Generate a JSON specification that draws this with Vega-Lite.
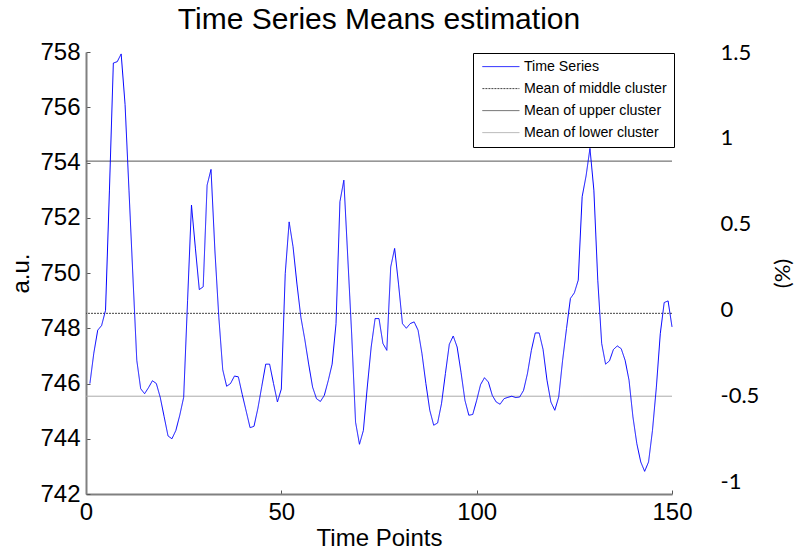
{
  "$schema": "https://vega.github.io/schema/vega-lite/v6.json",
  "width": 586,
  "height": 442,
  "autosize": {"type": "none"},
  "padding": {"left": 86, "top": 52, "right": 126, "bottom": 60},
  "background": "white",
  "title": {"text": "Time Series Means estimation", "font": "Liberation Sans", "fontSize": 30, "fontWeight": "normal", "color": "black", "anchor": "middle", "baseline": "alphabetic", "offset": -19},
  "config": {
    "view": {"stroke": null},
    "axis": {"grid": false, "labelFont": "Liberation Sans", "titleFont": "Liberation Sans", "labelColor": "black", "titleColor": "black", "titleFontWeight": "normal"}
  },
  "datasets": {
    "series": [
      {"t":1,"v":746.0},{"t":2,"v":747.1},{"t":3,"v":747.93},{"t":4,"v":748.1},{"t":5,"v":748.65},
      {"t":6,"v":753.0},{"t":7,"v":757.6},{"t":8,"v":757.65},{"t":9,"v":757.93},{"t":10,"v":756.1},
      {"t":11,"v":753.0},{"t":12,"v":749.9},{"t":13,"v":746.84},{"t":14,"v":745.81},{"t":15,"v":745.63},
      {"t":16,"v":745.85},{"t":17,"v":746.1},{"t":18,"v":746.0},{"t":19,"v":745.5},{"t":20,"v":744.8},
      {"t":21,"v":744.1},{"t":22,"v":744.0},{"t":23,"v":744.3},{"t":24,"v":744.85},{"t":25,"v":745.5},
      {"t":26,"v":749.0},{"t":27,"v":752.46},{"t":28,"v":750.9},{"t":29,"v":749.4},{"t":30,"v":749.5},
      {"t":31,"v":753.18},{"t":32,"v":753.75},{"t":33,"v":750.8},{"t":34,"v":748.4},{"t":35,"v":746.5},
      {"t":36,"v":745.9},{"t":37,"v":746.0},{"t":38,"v":746.27},{"t":39,"v":746.24},{"t":40,"v":745.6},
      {"t":41,"v":745.0},{"t":42,"v":744.4},{"t":43,"v":744.45},{"t":44,"v":745.1},{"t":45,"v":745.9},
      {"t":46,"v":746.7},{"t":47,"v":746.7},{"t":48,"v":746.0},{"t":49,"v":745.33},{"t":50,"v":745.8},
      {"t":51,"v":749.98},{"t":52,"v":751.85},{"t":53,"v":750.95},{"t":54,"v":749.6},{"t":55,"v":748.4},
      {"t":56,"v":747.6},{"t":57,"v":746.7},{"t":58,"v":745.87},{"t":59,"v":745.45},{"t":60,"v":745.35},
      {"t":61,"v":745.57},{"t":62,"v":746.1},{"t":63,"v":746.7},{"t":64,"v":748.17},{"t":65,"v":752.58},
      {"t":66,"v":753.36},{"t":67,"v":750.58},{"t":68,"v":747.8},{"t":69,"v":744.6},{"t":70,"v":743.8},
      {"t":71,"v":744.3},{"t":72,"v":745.87},{"t":73,"v":747.32},{"t":74,"v":748.35},{"t":75,"v":748.35},
      {"t":76,"v":747.45},{"t":77,"v":747.2},{"t":78,"v":750.22},{"t":79,"v":750.89},{"t":80,"v":749.6},
      {"t":81,"v":748.17},{"t":82,"v":748.0},{"t":83,"v":748.17},{"t":84,"v":748.23},{"t":85,"v":747.93},
      {"t":86,"v":747.08},{"t":87,"v":746.0},{"t":88,"v":745.03},{"t":89,"v":744.49},{"t":90,"v":744.57},
      {"t":91,"v":745.27},{"t":92,"v":746.36},{"t":93,"v":747.42},{"t":94,"v":747.72},{"t":95,"v":747.32},
      {"t":96,"v":746.4},{"t":97,"v":745.39},{"t":98,"v":744.85},{"t":99,"v":744.88},{"t":100,"v":745.39},
      {"t":101,"v":745.96},{"t":102,"v":746.21},{"t":103,"v":746.05},{"t":104,"v":745.57},{"t":105,"v":745.33},
      {"t":106,"v":745.25},{"t":107,"v":745.45},{"t":108,"v":745.5},{"t":109,"v":745.54},{"t":110,"v":745.49},
      {"t":111,"v":745.51},{"t":112,"v":745.75},{"t":113,"v":746.36},{"t":114,"v":747.2},{"t":115,"v":747.83},
      {"t":116,"v":747.83},{"t":117,"v":747.23},{"t":118,"v":746.12},{"t":119,"v":745.33},{"t":120,"v":745.03},
      {"t":121,"v":745.51},{"t":122,"v":746.84},{"t":123,"v":747.99},{"t":124,"v":749.08},{"t":125,"v":749.28},
      {"t":126,"v":749.74},{"t":127,"v":752.76},{"t":128,"v":753.51},{"t":129,"v":754.51},{"t":130,"v":753.0},
      {"t":131,"v":749.74},{"t":132,"v":747.45},{"t":133,"v":746.7},{"t":134,"v":746.82},{"t":135,"v":747.23},
      {"t":136,"v":747.36},{"t":137,"v":747.26},{"t":138,"v":746.84},{"t":139,"v":746.12},{"t":140,"v":744.79},
      {"t":141,"v":743.82},{"t":142,"v":743.16},{"t":143,"v":742.82},{"t":144,"v":743.16},{"t":145,"v":744.3},
      {"t":146,"v":745.87},{"t":147,"v":747.8},{"t":148,"v":748.93},{"t":149,"v":748.99},{"t":150,"v":748.05}
    ],
    "means": [
      {"series": "Mean of middle cluster", "v": 748.54},
      {"series": "Mean of upper cluster", "v": 754.05},
      {"series": "Mean of lower cluster", "v": 745.54}
    ],
    "pct": [{"p": -1}, {"p": 1.5}]
  },
  "layer": [
    {
      "layer": [
        {
          "data": {"name": "means"},
          "mark": {"type": "rule", "strokeWidth": 1},
          "encoding": {
            "y": {"field": "v", "type": "quantitative", "scale": {"domain": [742, 758], "nice": false, "zero": false},
              "axis": {"values": [742,744,746,748,750,752,754,756,758], "title": "a.u.", "titleFontSize": 24, "labelFontSize": 24, "tickSize": -4, "labelPadding": 10, "titlePadding": 6, "domainColor": "#808080", "domainWidth": 2, "tickColor": "#555555", "tickWidth": 1}},
            "color": {"field": "series", "type": "nominal",
              "scale": {"domain": ["Time Series", "Mean of middle cluster", "Mean of upper cluster", "Mean of lower cluster"], "range": ["#0000ff", "#444444", "#555555", "#aaaaaa"]},
              "legend": {"title": null, "orient": "none", "legendX": 387, "legendY": 1, "strokeColor": "black", "fillColor": "white", "padding": 6.5, "rowPadding": 7, "labelFont": "Liberation Sans", "labelFontSize": 14.2, "labelColor": "black", "symbolType": "M-3,0H3", "symbolSize": 152, "symbolOffset": 14.3, "labelOffset": 15.9, "symbolStrokeWidth": 1}},
            "strokeDash": {"field": "series", "type": "nominal",
              "scale": {"domain": ["Time Series", "Mean of middle cluster", "Mean of upper cluster", "Mean of lower cluster"], "range": [[1,0],[2,1],[1,0],[1,0]]},
              "legend": {"title": null, "orient": "none", "legendX": 387, "legendY": 1, "strokeColor": "black", "fillColor": "white", "padding": 6.5, "rowPadding": 7, "labelFont": "Liberation Sans", "labelFontSize": 14.2, "labelColor": "black", "symbolType": "M-3,0H3", "symbolSize": 152, "symbolOffset": 14.3, "labelOffset": 15.9, "symbolStrokeWidth": 1}}
          }
        },
        {
          "data": {"name": "series"},
          "mark": {"type": "line", "strokeWidth": 1},
          "encoding": {
            "x": {"field": "t", "type": "quantitative", "scale": {"domain": [0, 150], "nice": false},
              "axis": {"values": [0, 50, 100, 150], "title": "Time Points", "titleFontSize": 24, "labelFontSize": 24, "tickSize": -4, "labelPadding": 10, "titlePadding": 2, "domainColor": "#808080", "domainWidth": 2, "tickColor": "#555555", "tickWidth": 1, "labelFlush": false}},
            "y": {"field": "v", "type": "quantitative"},
            "color": {"datum": "Time Series", "type": "nominal"},
            "strokeDash": {"datum": "Time Series", "type": "nominal"}
          }
        }
      ]
    },
    {
      "data": {"name": "pct"},
      "mark": {"type": "point", "opacity": 0},
      "encoding": {
        "y": {"field": "p", "type": "quantitative", "scale": {"domain": [-1.07, 1.5], "nice": false, "zero": false},
          "axis": {"orient": "right", "values": [-1, -0.5, 0, 0.5, 1, 1.5], "labelExpr": "'' + datum.value", "domain": false, "ticks": false, "tickSize": 0, "labelPadding": 48, "labelFont": "Lato", "labelFontSize": 22, "title": "(%)", "titleFont": "Lato", "titleFontSize": 22, "titleAngle": -90, "titlePadding": 36}}
      }
    }
  ],
  "resolve": {"scale": {"y": "independent"}}
}
